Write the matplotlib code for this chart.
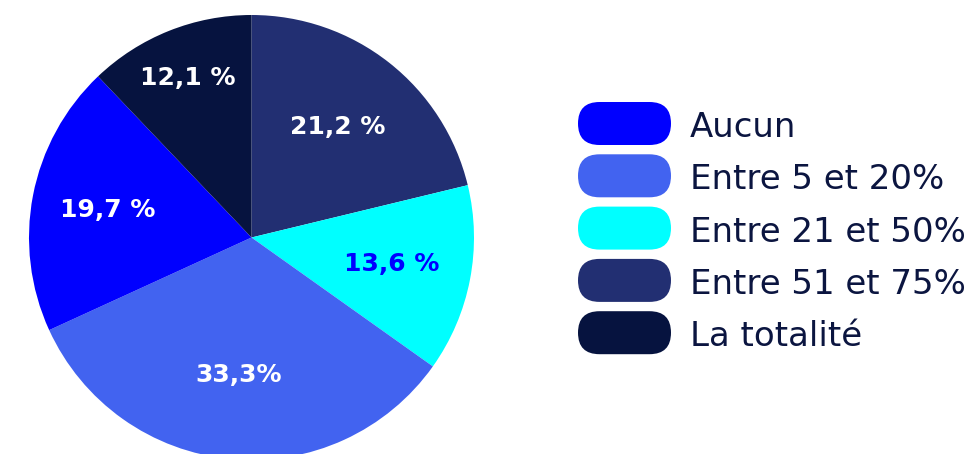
import numpy as np
import matplotlib
matplotlib.use('Agg')
from matplotlib import pyplot as plt
from matplotlib.patches import FancyBboxPatch

# data, clockwise from the top
labels = ['Entre 51 et 75%', 'Entre 21 et 50%', 'Entre 5 et 20%', 'Aucun', 'La totalité']
values = [21.2, 13.6, 33.3, 19.7, 12.1]
value_texts = ['21,2 %', '13,6 %', '33,3%', '19,7 %', '12,1 %']
colors = ['#222f72', '#00ffff', '#4263f0', '#0000ff', '#06133f']
text_colors = ['white', '#0000ff', 'white', 'white', 'white']
label_dist = [0.63, 0.64, 0.62, 0.66, 0.77]

legend_order = ['Aucun', 'Entre 5 et 20%', 'Entre 21 et 50%', 'Entre 51 et 75%', 'La totalité']

W, H = 970, 454
fig = plt.figure(figsize=(W / 100, H / 100), dpi=100)

cx, cy, r = 251.5, 237.5, 222.5
ax = fig.add_axes([(cx - r) / W, (H - cy - r) / H, 2 * r / W, 2 * r / H])
wedges, _ = ax.pie(values, colors=colors, startangle=90, counterclock=False,
                   wedgeprops=dict(linewidth=0))
ax.set_xlim(-1, 1)
ax.set_ylim(-1, 1)
ax.set_aspect('equal')
ax.axis('off')

for w, txt, tc, d in zip(wedges, value_texts, text_colors, label_dist):
    ang = np.deg2rad((w.theta1 + w.theta2) / 2)
    ax.text(d * np.cos(ang), d * np.sin(ang), txt, ha='center', va='center',
            color=tc, fontsize=18, fontweight='bold', family='DejaVu Sans')

# legend in pixel coordinates
lg = fig.add_axes([0, 0, 1, 1])
lg.set_xlim(0, W)
lg.set_ylim(H, 0)
lg.axis('off')
lg.patch.set_alpha(0)
for i, name in enumerate(legend_order):
    y0 = 102 + i * 52.3
    c = colors[labels.index(name)]
    lg.add_patch(FancyBboxPatch((578, y0), 93, 43,
                                boxstyle='round,pad=0,rounding_size=21.5',
                                fc=c, ec='none'))
    lg.text(690, y0 + 35, name, ha='left', va='baseline', fontsize=24.5,
            color='#0b1540', family='DejaVu Sans')

fig.savefig('out.png', dpi=100)
